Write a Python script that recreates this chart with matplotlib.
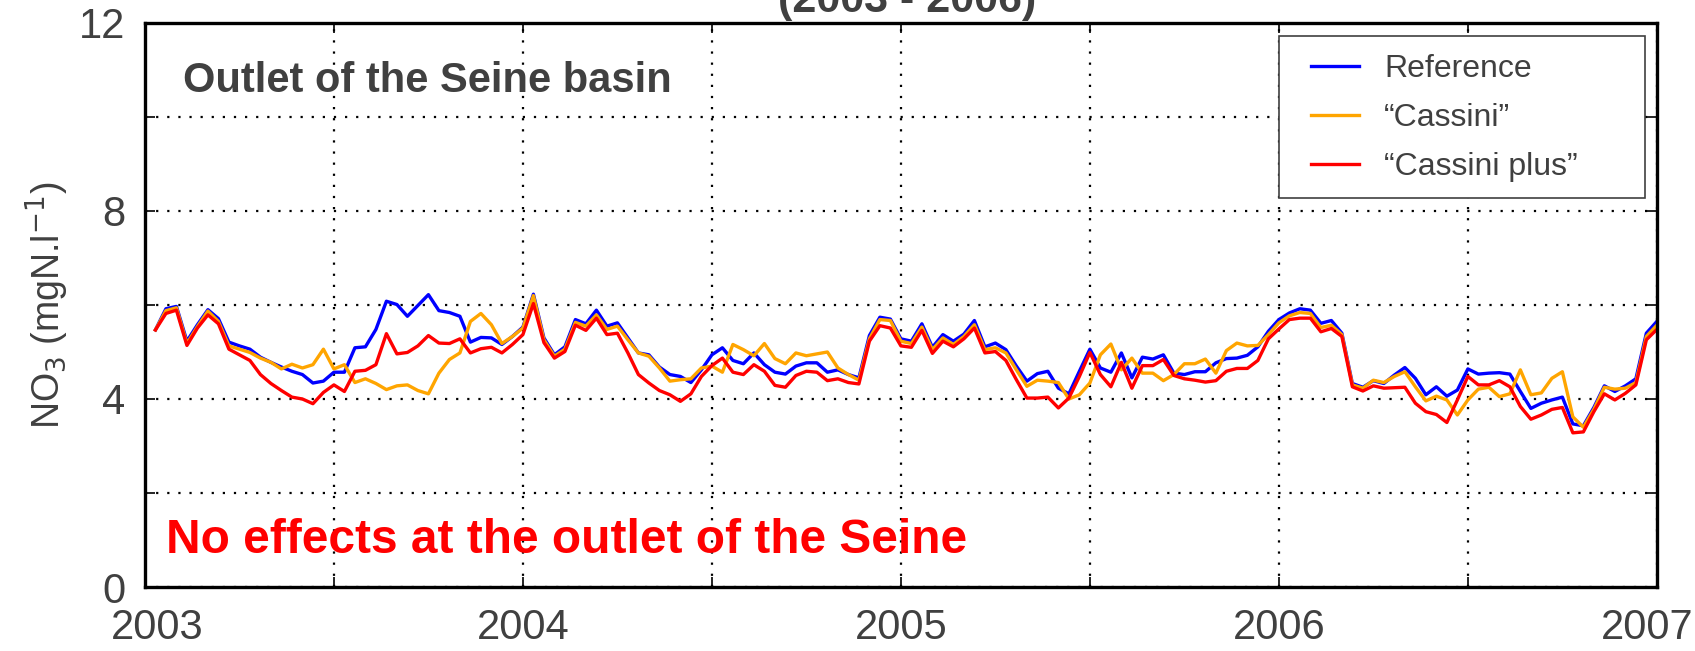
import numpy as np
import matplotlib.pyplot as plt
from matplotlib.patches import Rectangle
from matplotlib.ticker import MultipleLocator
from matplotlib.transforms import ScaledTranslation

plt.rcParams['font.family'] = ['Liberation Sans', 'DejaVu Sans']

# dekadal values, 36 per year, 2003 -> 2006
reference = [
    5.47, 5.92, 5.97, 5.23, 5.58, 5.90, 5.71, 5.21, 5.13, 5.06, 4.89, 4.78,
    4.68, 4.59, 4.52, 4.34, 4.38, 4.57, 4.57, 5.09, 5.11, 5.48, 6.08, 6.01,
    5.76, 5.99, 6.22, 5.88, 5.84, 5.76, 5.21, 5.31, 5.30, 5.16, 5.33, 5.53,
    6.23, 5.30, 4.94, 5.11, 5.69, 5.60, 5.89, 5.55, 5.62, 5.30, 4.98, 4.94,
    4.68, 4.52, 4.48, 4.35, 4.62, 4.94, 5.09, 4.82, 4.75, 4.98, 4.73, 4.57,
    4.53, 4.70, 4.77, 4.77, 4.57, 4.62, 4.52, 4.45, 5.35, 5.74, 5.70, 5.28,
    5.23, 5.60, 5.10, 5.37, 5.23, 5.38, 5.67, 5.11, 5.19, 5.05, 4.70, 4.38,
    4.54, 4.59, 4.23, 4.11, 4.59, 5.06, 4.66, 4.57, 4.98, 4.45, 4.89, 4.85,
    4.94, 4.55, 4.52, 4.58, 4.58, 4.77, 4.86, 4.87, 4.93, 5.11, 5.44, 5.69,
    5.83, 5.92, 5.89, 5.61, 5.67, 5.40, 4.33, 4.25, 4.39, 4.33, 4.51, 4.67,
    4.44, 4.09, 4.26, 4.06, 4.19, 4.64, 4.53, 4.55, 4.56, 4.53, 4.16, 3.80,
    3.91, 3.98, 4.04, 3.47, 3.43, 3.82, 4.28, 4.16, 4.28, 4.43, 5.40, 5.65,
]
cassini = [
    5.47, 5.88, 5.94, 5.18, 5.54, 5.87, 5.65, 5.13, 5.06, 4.99, 4.87, 4.78,
    4.64, 4.74, 4.66, 4.73, 5.06, 4.64, 4.73, 4.35, 4.43, 4.33, 4.20, 4.28,
    4.30, 4.18, 4.11, 4.55, 4.84, 4.98, 5.65, 5.82, 5.58, 5.18, 5.33, 5.51,
    6.20, 5.26, 4.91, 5.06, 5.63, 5.55, 5.79, 5.48, 5.55, 5.26, 4.98, 4.91,
    4.66, 4.38, 4.41, 4.43, 4.66, 4.70, 4.57, 5.16, 5.05, 4.92, 5.18, 4.86,
    4.75, 4.98, 4.92, 4.96, 5.00, 4.66, 4.52, 4.40, 5.28, 5.69, 5.67, 5.23,
    5.18, 5.53, 5.05, 5.30, 5.16, 5.33, 5.58, 5.05, 5.09, 4.98, 4.62, 4.27,
    4.40, 4.38, 4.35, 4.00, 4.09, 4.34, 4.94, 5.17, 4.62, 4.87, 4.55, 4.55,
    4.39, 4.52, 4.75, 4.75, 4.85, 4.55, 5.03, 5.19, 5.13, 5.14, 5.37, 5.62,
    5.77, 5.84, 5.82, 5.52, 5.57, 5.37, 4.30, 4.23, 4.40, 4.35, 4.48, 4.58,
    4.26, 3.96, 4.06, 3.98, 3.66, 3.98, 4.21, 4.25, 4.05, 4.11, 4.62, 4.09,
    4.13, 4.44, 4.58, 3.62, 3.40, 3.78, 4.25, 4.21, 4.23, 4.35, 5.33, 5.57,
]
cassini_plus = [
    5.47, 5.82, 5.89, 5.14, 5.51, 5.79, 5.60, 5.06, 4.94, 4.82, 4.52, 4.33,
    4.18, 4.04, 4.00, 3.90, 4.14, 4.30, 4.16, 4.59, 4.61, 4.73, 5.39, 4.96,
    4.99, 5.13, 5.35, 5.19, 5.18, 5.28, 4.98, 5.07, 5.10, 4.98, 5.16, 5.37,
    6.03, 5.20, 4.87, 5.01, 5.57, 5.46, 5.72, 5.37, 5.40, 4.98, 4.52, 4.34,
    4.18, 4.09, 3.95, 4.11, 4.48, 4.71, 4.87, 4.57, 4.52, 4.73, 4.59, 4.29,
    4.25, 4.50, 4.59, 4.57, 4.39, 4.43, 4.35, 4.32, 5.23, 5.56, 5.51, 5.13,
    5.10, 5.46, 4.97, 5.23, 5.11, 5.28, 5.51, 4.98, 5.01, 4.82, 4.41, 4.02,
    4.02, 4.04, 3.81, 4.02, 4.48, 4.99, 4.52, 4.26, 4.78, 4.23, 4.71, 4.71,
    4.84, 4.50, 4.43, 4.40, 4.36, 4.39, 4.59, 4.65, 4.65, 4.82, 5.28, 5.49,
    5.69, 5.72, 5.72, 5.43, 5.50, 5.33, 4.26, 4.17, 4.28, 4.23, 4.24, 4.25,
    3.91, 3.73, 3.67, 3.50, 3.98, 4.48, 4.30, 4.30, 4.39, 4.26, 3.84, 3.57,
    3.66, 3.78, 3.82, 3.28, 3.30, 3.73, 4.11, 3.98, 4.12, 4.30, 5.26, 5.48,
]
years = [2003, 2004, 2005, 2006, 2007]
y_ticks = [0, 4, 8, 12]

t = 2003 + np.arange(1, len(reference) + 1) / 36.0

fig = plt.figure(figsize=(16.95, 6.51), dpi=100)
ax = fig.add_axes([0.0855, 0.0983, 0.892, 0.8664])

ax.plot(t, reference, color='#0000ff', lw=2.4, label="Reference")
ax.plot(t, cassini, color='#ffa500', lw=2.4, label="\u201cCassini\u201d")
ax.plot(t, cassini_plus, color='#ff0000', lw=2.4, label="\u201cCassini plus\u201d")

ax.set_xlim(2003, 2007)
ax.set_ylim(0, 12)
ax.set_xticks(years)
ax.set_xticklabels([str(y) for y in years])
ax.xaxis.set_minor_locator(MultipleLocator(0.5))
ax.set_yticks(y_ticks)
ax.yaxis.set_minor_locator(MultipleLocator(2))

ax.grid(True, which='both', color='black', linestyle=(0, (1, 4)), linewidth=1.6)
ax.tick_params(which='both', direction='in', top=True, right=True,
               length=7, width=1.2, colors='black', labelcolor='#404040')
ax.tick_params(axis='x', labelsize=30, pad=15)
ax.tick_params(axis='y', labelsize=30, pad=14)
for s in ax.spines.values():
    s.set_linewidth(2.4)

# end labels nudged inwards like in the original
xlabels = ax.get_xticklabels()
xlabels[0].set_transform(xlabels[0].get_transform() + ScaledTranslation(0.12, 0, fig.dpi_scale_trans))
xlabels[-1].set_transform(xlabels[-1].get_transform() + ScaledTranslation(-0.10, 0, fig.dpi_scale_trans))

ax.set_ylabel(r"NO$_3$ (mgN.l$^{-1}$)", fontsize=27, color='#404040', labelpad=6)

ax.text(0.025, 0.898, "Outlet of the Seine basin", transform=ax.transAxes,
        fontsize=30, fontweight='bold', color='#404040', va='center')
ax.text(0.014, 0.083, "No effects at the outlet of the Seine", transform=ax.transAxes,
        fontsize=34.5, fontweight='bold', color='#ff0000', va='center')

fig.text(0.535, 1.0 - 12 / 651, "(2003 - 2006)", fontsize=31, fontweight='bold',
         color='#404040', ha='center', va='baseline')

# legend box drawn apart from the entries
ax.add_patch(Rectangle((0.75, 0.69), 0.242, 0.287, transform=ax.transAxes,
                       facecolor='white', edgecolor='#404040', lw=1.2, zorder=4))
leg = ax.legend(loc='upper left', bbox_to_anchor=(0.771, 0.945), fontsize=23,
                frameon=False, handlelength=1.5, handletextpad=0.8,
                labelspacing=0.6, borderpad=0.0, borderaxespad=0.0)
leg.set_zorder(5)
for txt in leg.get_texts():
    txt.set_color('#404040')

plt.savefig("out.png", dpi=100)
